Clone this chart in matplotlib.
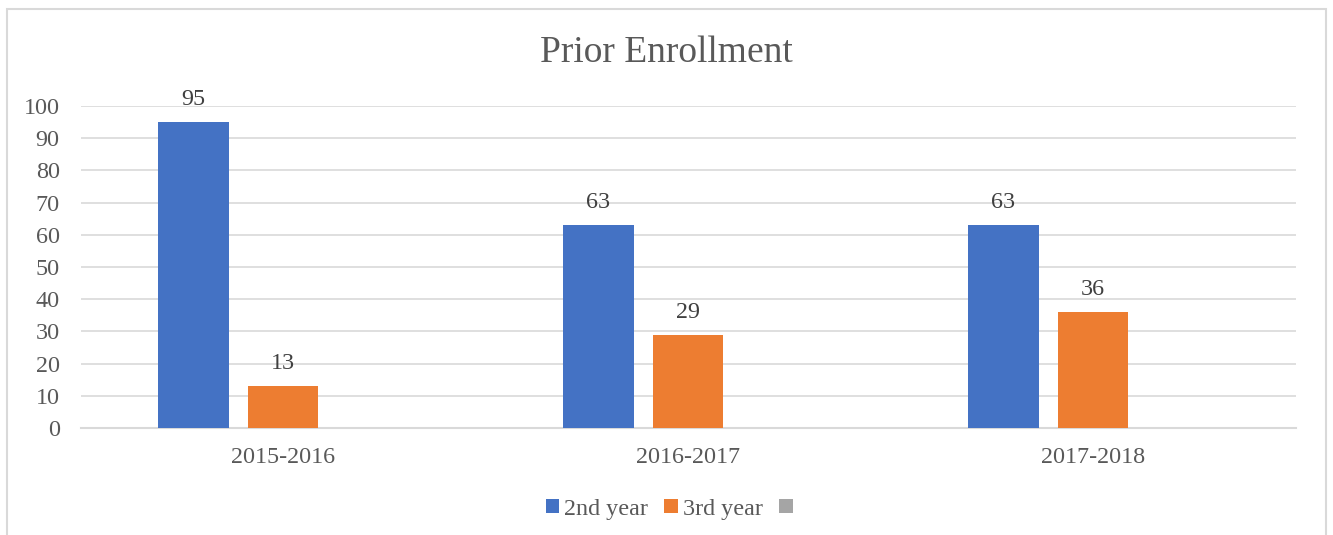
import numpy as np
import matplotlib
matplotlib.use('Agg')
from matplotlib import pyplot as plt
from matplotlib.patches import Rectangle

years = ['2015-2016', '2016-2017', '2017-2018']
second_year = [95, 63, 63]
third_year = [13, 29, 36]
series_names = ['2nd year', '3rd year', ' ']
colors = ['#4472C4', '#ED7D31', '#A5A5A5']

plt.rcParams['font.family'] = ['Liberation Serif', 'DejaVu Serif']
text_color = '#595959'
fs = 17.4

fig = plt.figure(figsize=(13.33, 5.35), dpi=100)
ax = fig.add_axes([0.0604, 0.2, 0.9115, 0.6019])

# chart border
fig.patches.append(Rectangle((7 / 1333, -0.05), 1319 / 1333, 1 - 9 / 535 + 0.05,
                             transform=fig.transFigure, fill=False,
                             edgecolor='#D9D9D9', linewidth=1.5, zorder=0))

x = np.arange(len(years))
w = 0.175
step = 0.222
bars1 = ax.bar(x - step, second_year, w, color=colors[0], label=series_names[0], zorder=3)
bars2 = ax.bar(x, third_year, w, color=colors[1], label=series_names[1], zorder=3)
# empty third series, only in the legend
ax.bar(x + step, [0, 0, 0], w, color=colors[2], label=series_names[2], zorder=3)

for bars in (bars1, bars2):
    for b in bars:
        ax.text(b.get_x() + b.get_width() / 2, b.get_height() + 3.7, str(int(b.get_height())),
                ha='center', va='bottom', fontsize=fs, color='#404040')

ax.set_xlim(-0.5, 2.5)
ax.set_ylim(0, 100)
ax.set_yticks(range(0, 101, 10))
ax.set_xticks(x)
ax.set_xticklabels(years)
ax.tick_params(axis='both', length=0, labelsize=fs, labelcolor=text_color)
ax.tick_params(axis='y', pad=15)
ax.tick_params(axis='x', pad=13.5)
ax.grid(axis='y', color='#D9D9D9', linewidth=1.2, zorder=0)
for s in ['top', 'right', 'left']:
    ax.spines[s].set_visible(False)
ax.spines['bottom'].set_color('#D9D9D9')
ax.spines['bottom'].set_linewidth(1.5)

fig.text(0.5, 1 - 53 / 535, 'Prior Enrollment', ha='center', va='center',
         fontsize=27, color=text_color)

fig.legend(loc='center', bbox_to_anchor=(0.5 + 8 / 1333, 1 - 509 / 535), ncol=3, frameon=False,
           fontsize=fs, labelcolor=text_color, handlelength=0.55, handleheight=0.55,
           handletextpad=0.2, columnspacing=0.7)

fig.savefig('out.png', dpi=100)
